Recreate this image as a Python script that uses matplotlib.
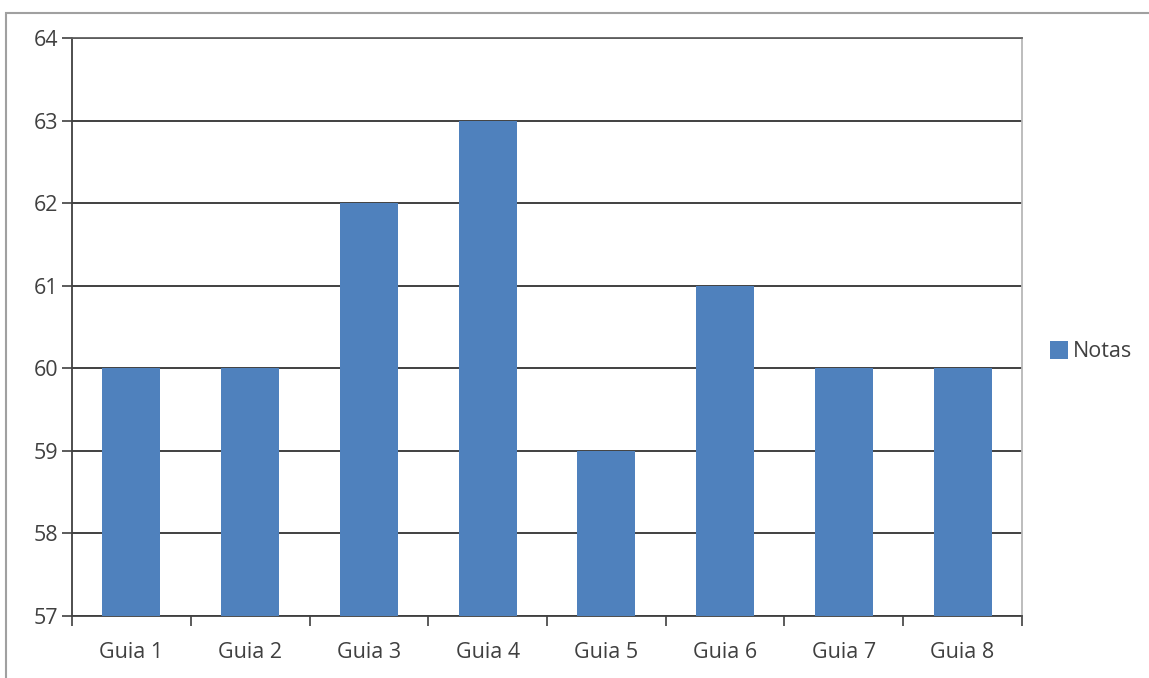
import matplotlib
matplotlib.use("Agg")
import matplotlib.pyplot as plt
from matplotlib.patches import Rectangle, Patch

categories = ["Guia 1", "Guia 2", "Guia 3", "Guia 4", "Guia 5", "Guia 6", "Guia 7", "Guia 8"]
notas = [60, 60, 62, 63, 59, 61, 60, 60]
y_ticks = [57, 58, 59, 60, 61, 62, 63, 64]

plt.rcParams["font.family"] = ["Open Sans", "DejaVu Sans"]

fig = plt.figure(figsize=(11.49, 6.78), dpi=100)
ax = fig.add_axes([72 / 1149, 62 / 678, 950 / 1149, 578 / 678])

# moldura cinza do gráfico
fig.patches.append(Rectangle((6 / 1149, -0.1), 2.0, (678 - 13) / 678 + 0.1,
                             transform=fig.transFigure, fill=False,
                             edgecolor="#a0a0a0", linewidth=1.5))

x = list(range(len(categories)))
ax.bar(x, notas, width=0.49, bottom=0, color="#4f81bd", zorder=3)
ax.set_xlim(-0.5, len(categories) - 0.5)
ax.set_ylim(57, 64)
ax.set_yticks(y_ticks)
ax.set_yticklabels([str(v) for v in y_ticks], fontsize=15.5, color="#404040")
ax.set_xticks(x)
ax.set_xticklabels(categories, fontsize=15.5, color="#404040")
ax.set_xticks([i - 0.5 for i in range(len(categories) + 1)], minor=True)

ax.tick_params(axis="x", which="major", length=0, pad=19)
ax.tick_params(axis="x", which="minor", length=7, width=1.2, color="#404040", direction="out")
ax.tick_params(axis="y", length=7, width=1.2, color="#404040", direction="out", pad=3)

ax.grid(axis="y", color="#202020", linewidth=1.2, zorder=1)
for side in ["left", "bottom"]:
    ax.spines[side].set_color("#404040")
    ax.spines[side].set_linewidth(1.3)
ax.spines["top"].set_color("#606060")
ax.spines["top"].set_linewidth(1.3)
ax.spines["right"].set_color("#b8b8b8")
ax.spines["right"].set_linewidth(1.3)

ax.legend(handles=[Patch(facecolor="#4f81bd", label="Notas")],
          loc="center left", bbox_to_anchor=(1.02, 0.457), frameon=False,
          fontsize=15.5, handlelength=0.85, handleheight=0.85, handletextpad=0.25,
          labelcolor="#404040", borderaxespad=0)

fig.savefig("out.png", dpi=100)
